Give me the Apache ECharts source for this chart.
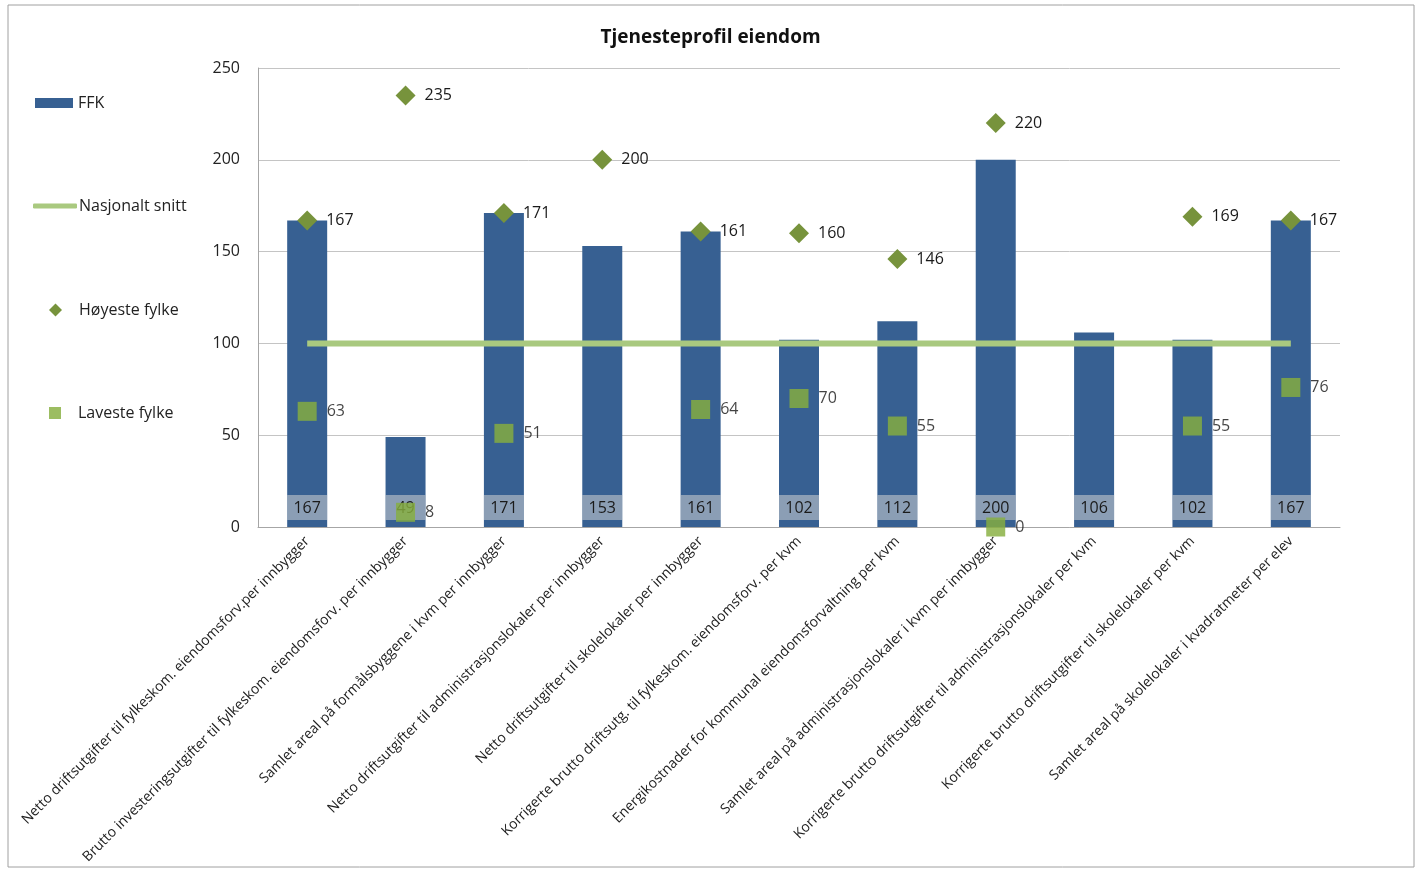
<!DOCTYPE html>
<html><head><meta charset="utf-8">
<script src="https://cdn.jsdelivr.net/npm/echarts@6/dist/echarts.min.js"></script>
<style>html,body{margin:0;padding:0;background:#fff}#c{width:1421px;height:870px}</style>
</head><body><div id="c"></div>
<script>
const categories = [
  "Netto driftsutgifter til fylkeskom. eiendomsforv.per innbygger",
  "Brutto investeringsutgifter til fylkeskom. eiendomsforv. per innbygger",
  "Samlet areal på formålsbyggene i kvm per innbygger",
  "Netto driftsutgifter til administrasjonslokaler per innbygger",
  "Netto driftsutgifter til skolelokaler per innbygger",
  "Korrigerte brutto driftsutg. til fylkeskom. eiendomsforv. per kvm",
  "Energikostnader for kommunal eiendomsforvaltning per kvm",
  "Samlet areal på administrasjonslokaler i kvm per innbygger",
  "Korrigerte brutto driftsutgifter til administrasjonslokaler per kvm",
  "Korrigerte brutto driftsutgifter til skolelokaler per kvm",
  "Samlet areal på skolelokaler i kvadratmeter per elev"
];
const ffk = [167, 49, 171, 153, 161, 102, 112, 200, 106, 102, 167];
const nasjonalt = [100, 100, 100, 100, 100, 100, 100, 100, 100, 100, 100];
const hoyeste = [167, 235, 171, 200, 161, 160, 146, 220, null, 169, 167];
const laveste = [63, 8, 51, null, 64, 70, 55, 0, null, 55, 76];
const yTicks = [0, 50, 100, 150, 200, 250];

const font = "'Open Sans', 'Liberation Sans', sans-serif";
const chart = echarts.init(document.getElementById('c'));
const lt = {fontFamily: font, fontSize: 16, color: '#222'};
const legendBase = {orient: 'vertical', textStyle: lt, selectedMode: false};
chart.setOption({
  animation: false,
  title: {text: 'Tjenesteprofil eiendom', left: 'center', top: 23, textStyle: {fontFamily: font, fontSize: 19, fontWeight: 'bold', color: '#111'}},
  graphic: [{type: 'rect', shape: {x: 8, y: 5, width: 1406, height: 862}, style: {fill: 'none', stroke: '#a0a0a0', lineWidth: 1}, silent: true}],
  legend: [
    Object.assign({}, legendBase, {left: 30, top: 90, data: [{name: 'FFK', icon: 'rect'}], itemWidth: 38, itemHeight: 10, textStyle: Object.assign({}, lt, {padding: [0, 0, 0, 0]})}),
    Object.assign({}, legendBase, {left: 28, top: 193, data: [{name: 'Nasjonalt snitt', icon: 'roundRect'}], itemWidth: 44, itemHeight: 5, textStyle: Object.assign({}, lt, {padding: [0, 0, 0, -3]})}),
    Object.assign({}, legendBase, {left: 44, top: 297, data: [{name: 'Høyeste fylke', icon: 'diamond'}], itemWidth: 13, itemHeight: 13, textStyle: Object.assign({}, lt, {padding: [0, 0, 0, 12]})}),
    Object.assign({}, legendBase, {left: 44, top: 400, data: [{name: 'Laveste fylke', icon: 'rect'}], itemWidth: 12, itemHeight: 12, textStyle: Object.assign({}, lt, {padding: [0, 0, 0, 12]})})
  ],
  grid: {left: 258, right: 81, top: 68, bottom: 343, containLabel: false},
  xAxis: {
    type: 'category', data: categories,
    axisLine: {lineStyle: {color: '#a6a6a6'}}, axisTick: {show: false},
    axisLabel: {rotate: 45, interval: 0, fontFamily: font, fontSize: 14, color: '#222', margin: 12}
  },
  yAxis: {
    type: 'value', min: yTicks[0], max: yTicks[yTicks.length - 1], interval: 50,
    axisLine: {show: true, lineStyle: {color: '#a6a6a6'}}, axisTick: {show: false},
    axisLabel: {fontFamily: font, fontSize: 16, color: '#222', margin: 18},
    splitLine: {lineStyle: {color: '#c4c4c4'}}
  },
  series: [
    {name: 'FFK', type: 'bar', data: ffk, barWidth: 40, itemStyle: {color: '#376092'}, z: 1,
     label: {show: true, position: 'insideBottom', distance: 7, fontFamily: font, fontSize: 16, color: '#1a1a1a',
             backgroundColor: 'rgba(210,210,210,0.55)', padding: [5, 3, 4, 3], width: 34, align: 'center'}},
    {name: 'Nasjonalt snitt', type: 'line', data: nasjonalt, symbol: 'none', lineStyle: {color: '#a9c97f', width: 6}, itemStyle: {color: '#a9c97f'}, z: 3},
    {name: 'Høyeste fylke', type: 'scatter', data: hoyeste, symbol: 'diamond', symbolSize: 20, itemStyle: {color: '#77933c', opacity: 1}, z: 5,
     label: {show: true, position: 'right', distance: 9, fontFamily: font, fontSize: 16, color: '#1a1a1a'}},
    {name: 'Laveste fylke', type: 'scatter', data: laveste, symbol: 'rect', symbolSize: 19, itemStyle: {color: '#86ae3e', opacity: 0.82}, z: 5,
     label: {show: true, position: 'right', distance: 10, fontFamily: font, fontSize: 16, color: '#1a1a1a'}}
  ]
});
</script></body></html>
